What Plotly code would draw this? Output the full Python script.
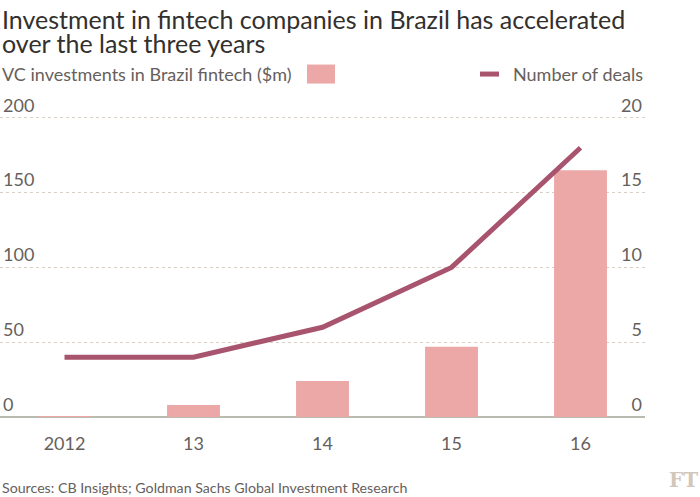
import plotly.graph_objects as go

years = ["2012", "13", "14", "15", "16"]
vc_investment = [0.5, 8, 24, 47, 165]
num_deals = [4, 4, 6, 10, 18]
y_left_ticks = [0, 50, 100, 150, 200]
y_right_ticks = [0, 5, 10, 15, 20]

BAR = "#eba8a7"
LINE = "#a9546f"
TXT = "#66605c"
FONT = "Lato"

fig = go.Figure()
fig.add_trace(go.Bar(x=years, y=vc_investment, marker=dict(color=BAR, line=dict(width=0)),
                     width=0.41, yaxis="y", showlegend=False))
fig.add_trace(go.Scatter(x=years, y=num_deals, mode="lines", line=dict(color=LINE, width=5),
                         yaxis="y2", showlegend=False))

W, H = 700, 497
ZERO_PX = 417.3
PX_PER_UNIT = 1.495
YMAX = 228
TOP = ZERO_PX - YMAX * PX_PER_UNIT
BOT = H - ZERO_PX
plot_h = ZERO_PX - TOP

def py(pix):
    return (ZERO_PX - pix) / plot_h

fig.update_layout(
    width=W, height=H,
    margin=dict(l=0, r=55, t=TOP, b=BOT),
    paper_bgcolor="white", plot_bgcolor="white",
    font=dict(family=FONT, color=TXT, size=17),
    xaxis=dict(type="category", range=[-0.5, 4.5], showgrid=False, showline=False,
               ticks="", ticklabelstandoff=14, tickfont=dict(size=18, color=TXT), zeroline=False),
    yaxis=dict(range=[0, YMAX], tickvals=y_left_ticks, ticklabelposition="inside top",
               showgrid=True, gridcolor="#d8d0c4", griddash="dot", gridwidth=1,
               zeroline=True, zerolinecolor="#b8bbb0", zerolinewidth=2,
               tickfont=dict(size=18, color=TXT), ticks="", showline=False),
    yaxis2=dict(range=[0, YMAX / 10], tickvals=y_right_ticks, overlaying="y", side="right",
                ticklabelposition="inside top", showgrid=False, zeroline=False,
                tickfont=dict(size=18, color=TXT), ticks="", showline=False),
)

title_lines = ["Investment in fintech companies in Brazil has accelerated",
               "over the last three years"]
for txt, ypix in zip(title_lines, [19, 43]):
    fig.add_annotation(text=txt, xref="paper", yref="paper", x=0, y=py(ypix),
                       xanchor="left", yanchor="middle", align="left", showarrow=False,
                       font=dict(family=FONT, size=25, color="#33302e"))
# legend row
fig.add_annotation(text="VC investments in Brazil fintech ($m)", xref="paper", yref="paper",
                   x=0, y=py(74.5), xanchor="left", yanchor="middle", showarrow=False,
                   font=dict(family=FONT, size=18, color=TXT))
fig.add_shape(type="rect", xref="paper", yref="paper", x0=307/645, x1=335/645,
              y0=py(84), y1=py(65), line=dict(width=0), fillcolor=BAR)
fig.add_shape(type="line", xref="paper", yref="paper", x0=480/645, x1=499/645,
              y0=py(74.5), y1=py(74.5), line=dict(width=5, color=LINE))
fig.add_annotation(text="Number of deals", xref="paper", yref="paper",
                   x=1, y=py(74.5), xanchor="right", yanchor="middle", showarrow=False,
                   font=dict(family=FONT, size=18, color=TXT))
fig.add_annotation(text="Sources: CB Insights; Goldman Sachs Global Investment Research",
                   xref="paper", yref="paper", x=0, y=py(488), xanchor="left", yanchor="middle",
                   showarrow=False, font=dict(family=FONT, size=14.2, color=TXT))
fig.add_annotation(text="<b>FT</b>", xref="paper", yref="paper", x=1 + 55/645, y=py(480),
                   xanchor="right", yanchor="middle", showarrow=False,
                   font=dict(family="DejaVu Serif", size=20, color="#d2c7ba"))

fig.write_html("out.html")
